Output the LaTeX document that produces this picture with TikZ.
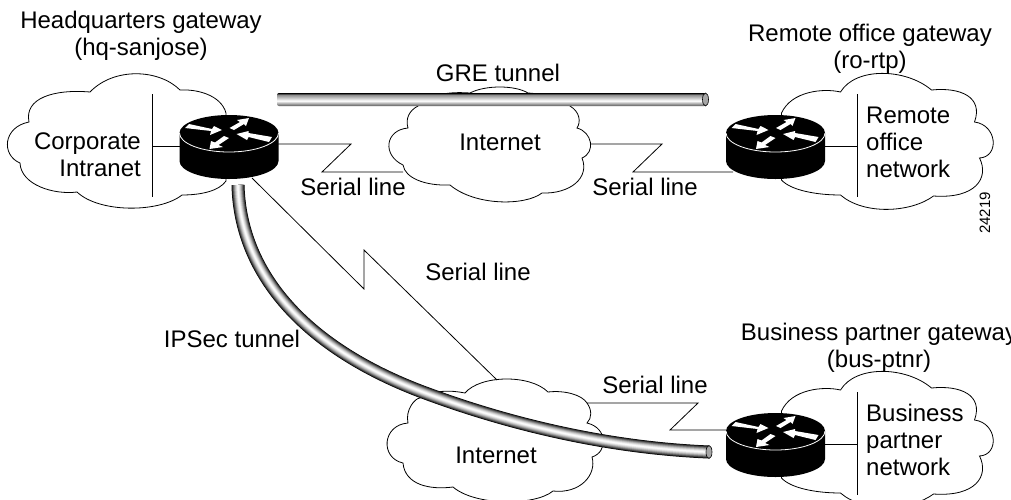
\documentclass[tikz,border=0pt]{standalone}
\usepackage{fontspec}
\setmainfont{Liberation Sans}
\pgfdeclareverticalshading{grepipe}{100bp}{color(0bp)=(black!65); color(25bp)=(black!65); color(45bp)=(white); color(68bp)=(black!45); color(75bp)=(black); color(100bp)=(black)}
\newcommand{\pipe}[1]{%
  \foreach \w in {13,12,...,1} {%
    \pgfmathsetmacro\dk{100*(\w/13)^1.6}%
    \draw[line width=\w pt,black!\dk] #1;
  }}
\tikzset{
  wire/.style={line width=0.8pt,black},
  cloudline/.style={line width=0.8pt,draw=black,fill=white},
  pipecap/.style={line width=0.6pt,draw=black,fill=black!35},
  lbl/.style={align=center,font=\fontsize{24}{27}\selectfont,inner sep=0pt},
  lblleft/.style={lbl,align=left,anchor=west},
  lblright/.style={lbl,align=right,anchor=east},
  router/.pic={
    \fill[black] (-49.5,0) -- (-49.5,28) arc[start angle=180,end angle=360,x radius=49.5pt,y radius=18pt]
      -- (49.5,0) arc[start angle=0,end angle=180,x radius=49.5pt,y radius=18pt] -- cycle;
    \draw[white,line width=0.8pt] (-49.5,0) arc[start angle=180,end angle=360,x radius=49.5pt,y radius=19pt];
    \fill[white] (-44,-5) -- (-40,-9) -- (-17,-4) -- (-15,-7) -- (-7,-3) -- (-19,2) -- (-18,-2) -- cycle;
    \fill[white] (0.5,-5) -- (11,-11) -- (8,-13) -- (20,-15) -- (17,-7) -- (15,-9) -- (5,-3) -- cycle;
    \fill[white] (43,4) -- (40,9) -- (19.5,4) -- (18,7) -- (7.5,1) -- (19.5,-2) -- (19.5,0) -- cycle;
    \fill[white] (-5,3) -- (0,5) -- (-10.5,12) -- (-6,14) -- (-19.5,16) -- (-18,8) -- (-14,9.5) -- cycle;
  },
  sitecloud/.pic={
    \draw[cloudline] (6,-20) .. controls (16,-42) and (48,-45) .. (65,-41)
      .. controls (80,-66) and (130,-65) .. (156,-43)
      .. controls (185,-46) and (208,-36) .. (199,-11)
      .. controls (222,-8) and (224,24) .. (204,25)
      .. controls (214,45) and (200,66) .. (158,63)
      .. controls (135,80) and (88,82) .. (65,62)
      .. controls (40,62) and (15,57) .. (6,47) -- cycle;
    \coordinate (-bar top) at (81.5,-39);
    \coordinate (-bar low) at (81.5,64);
    \coordinate (-bar mid) at (81.5,13);
    \draw[wire] (-bar top) -- (-bar low);
  },
  corpcloud/.pic={
    \draw[cloudline] (-3,-20) .. controls (-8,-38) and (-32,-44) .. (-49,-43)
      .. controls (-70,-64) and (-115,-66) .. (-139,-41)
      .. controls (-175,-44) and (-205,-35) .. (-200,-11)
      .. controls (-226,-6) and (-228,22) .. (-209,30)
      .. controls (-208,52) and (-175,62) .. (-152,59)
      .. controls (-130,80) and (-70,80) .. (-47,62)
      .. controls (-28,62) and (-10,58) .. (-3,48) -- cycle;
    \coordinate (-bar top) at (-76.5,-39);
    \coordinate (-bar low) at (-76.5,64);
    \coordinate (-bar mid) at (-76.5,13);
    \draw[wire] (-bar top) -- (-bar low);
  }
}
\begin{document}
\begin{tikzpicture}[x=1pt,y=-1pt]
\clip (0,0) rectangle (1011,499);
\fill[white] (0,0) rectangle (1011,499);
% clouds
\pic (corp) at (229,133) {corpcloud};
\pic (remote) at (775.5,133) {sitecloud};
\pic (partner) at (775.5,431) {sitecloud};
\draw[cloudline] (418,106) .. controls (432,92) and (455,92) .. (470,93)
  .. controls (485,85) and (515,85) .. (528,93)
  .. controls (545,94) and (562,98) .. (570,106)
  .. controls (580,112) and (581,122) .. (577,128)
  .. controls (592,132) and (596,152) .. (582,158)
  .. controls (590,178) and (570,194) .. (542,193)
  .. controls (525,206) and (475,206) .. (450,185)
  .. controls (425,186) and (405,178) .. (403,165)
  .. controls (382,155) and (385,130) .. (408,128)
  .. controls (405,118) and (410,110) .. (418,106) -- cycle;
\draw[cloudline] (465,393) .. controls (480,375) and (530,374) .. (548,392)
  .. controls (565,390) and (582,395) .. (587,403)
  .. controls (592,410) and (592,418) .. (587,423)
  .. controls (608,428) and (608,452) .. (592,457)
  .. controls (597,475) and (580,494) .. (553,491)
  .. controls (535,506) and (475,506) .. (453,487)
  .. controls (430,490) and (405,485) .. (403,463)
  .. controls (380,458) and (382,425) .. (408,423)
  .. controls (405,410) and (415,398) .. (420,398)
  .. controls (435,390) and (450,390) .. (465,393) -- cycle;
% ends of the connectors
\coordinate (hq west) at (180,146);
\coordinate (hq east) at (278,144);
\coordinate (hq low) at (252,178);
\coordinate (rtp west) at (733,172);
\coordinate (rtp east) at (825,146);
\coordinate (ptnr west) at (726,430);
\coordinate (ptnr east) at (825,444);
\coordinate (midcloud west) at (403,172);
\coordinate (midcloud east) at (591,144);
\coordinate (lowcloud top) at (497,380);
\coordinate (lowcloud east) at (587,403);
% serial lines
\draw[wire] (corp-bar mid) -- (hq west);
\draw[wire] (hq east) -- (351,144) -- (322,172) -- (midcloud west);
\draw[wire] (midcloud east) -- (662,144) -- (633,172) -- (rtp west);
\draw[wire] (rtp east) -- (remote-bar mid);
\draw[wire] (hq low) -- (364,289) -- (364,250) -- (lowcloud top);
\draw[wire] (lowcloud east) -- (698,403) -- (670,430) -- (ptnr west);
\draw[wire] (ptnr east) -- (partner-bar mid);
% routers
\pic (hq) at (229,133) {router};
\pic (rtp) at (775.5,133) {router};
\pic (ptnr) at (775.5,431) {router};
% tunnels
\coordinate (gre west) at (277,93);
\coordinate (gre east) at (706,106);
\coordinate (gre end) at (705.5,99.5);
\coordinate (ipsec west) at (238,185);
\coordinate (ipsec mid) at (420,391);
\coordinate (ipsec east) at (709,452);
\shade[shading=grepipe,rounded corners=2pt] (gre west) rectangle (gre east);
\draw[pipecap] (gre end) ellipse [x radius=3pt,y radius=6.5pt];
\pipe{(ipsec west) .. controls (240,270) and (300,345) .. (ipsec mid)
  .. controls (510,425) and (610,448) .. (ipsec east)}
\draw[pipecap] (ipsec east) ellipse [x radius=3pt,y radius=6.5pt];
% labels
\node[lbl] (hqname) at (141,36) {Headquarters gateway\\(hq-sanjose)};
\node[lbl] (rtpname) at (870,49) {Remote office gateway\\(ro-rtp)};
\node[lbl] (grename) at (498,73) {GRE tunnel};
\node[lbl] (busname) at (879,348) {Business partner gateway\\(bus-ptnr)};
\node[lblright] (corpname) at (141,155) {Corporate\\Intranet};
\node[lblleft] (remotename) at (866,142) {Remote\\office\\network};
\node[lblleft] (partnername) at (866,440) {Business\\partner\\network};
\node[lbl] (midnet) at (500,142) {Internet};
\node[lbl] (lownet) at (496,455) {Internet};
\node[lbl] (serial a) at (353,187) {Serial line};
\node[lbl] (serial b) at (645,187) {Serial line};
\node[lbl] (serial c) at (478,272) {Serial line};
\node[lbl] (serial d) at (655,385) {Serial line};
\node[lbl] (ipsecname) at (232,339) {IPSec tunnel};
\node[lbl,font=\fontsize{15}{17}\selectfont,rotate=90] (figno) at (985,213) {24219};
\end{tikzpicture}
\end{document}
